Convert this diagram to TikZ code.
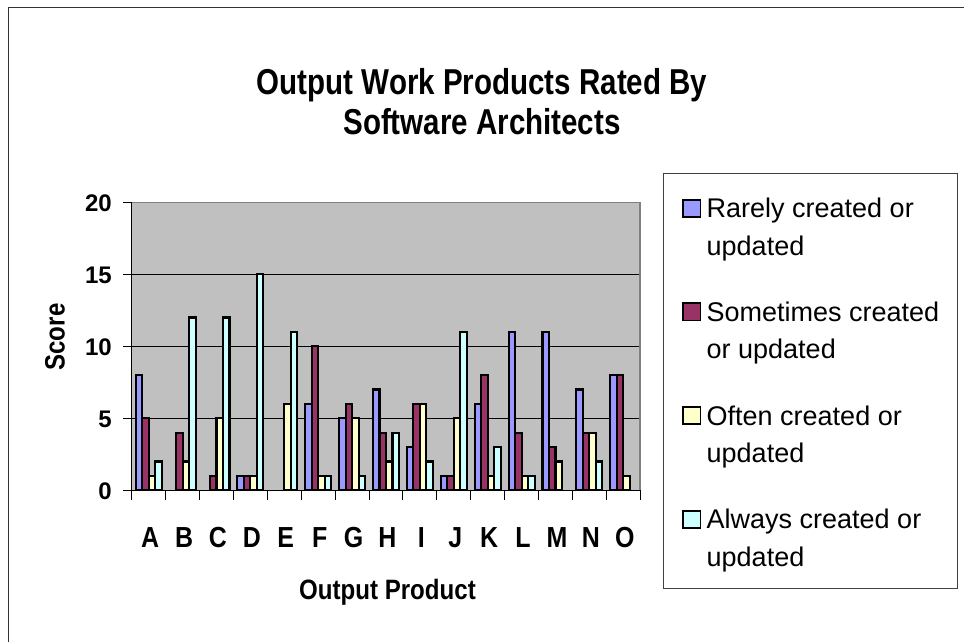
\documentclass[tikz,border=0pt]{standalone}
\usepackage{fontspec}
\setmainfont{Liberation Sans}
\newfontfamily\narrowfont[FakeStretch=0.86]{Liberation Sans}
\newfontfamily\titlefont[FakeStretch=0.82]{Liberation Sans}
\definecolor{cRare}{HTML}{9999FF}
\definecolor{cSome}{HTML}{993366}
\definecolor{cOften}{HTML}{FFFFCC}
\definecolor{cAlways}{HTML}{CCFFFF}
\definecolor{plotbg}{HTML}{C0C0C0}
\definecolor{frame}{HTML}{333333}
\begin{document}
\begin{tikzpicture}[x=1pt,y=-1pt,
  barbox/.style={draw=black,line width=2.1pt},
  gridline/.style={draw=black,line width=0.9pt},
  axisline/.style={draw=black,line width=1pt},
  titletext/.style={font=\titlefont\fontsize{36}{40}\selectfont\bfseries,inner sep=0pt,anchor=base},
  axistitle/.style={font=\narrowfont\fontsize{28}{32}\selectfont\bfseries,inner sep=0pt},
  catlabel/.style={font=\narrowfont\fontsize{29}{32}\selectfont\bfseries,inner sep=0pt,anchor=base},
  ylabel/.style={font=\fontsize{24}{28}\selectfont\bfseries,inner sep=0pt,anchor=east},
  legtext/.style={font=\fontsize{27}{32}\selectfont,inner sep=0pt,anchor=base west},
  legmark/.style={draw=black,line width=1.8pt}]
\useasboundingbox[fill=white] (0,0) rectangle (964,642);
% outer chart frame (right and bottom sides lie outside the picture)
\draw[frame,line width=1.5pt] (8.3,660) -- (8.3,7.7) -- (990,7.7);
% title
\node[titletext] (title1) at (482,95) {Output Work Products Rated By};
\node[titletext] (title2) at (482,134) {Software Architects};
% plot area
\fill[plotbg] (131.7,202.3) rectangle (640,490.3);
\foreach \v in {5,10,15}{
  \draw[gridline] (131.7,{490.3-\v*14.4}) -- (640,{490.3-\v*14.4});
}
\draw[draw=black!50,line width=1.5pt] (131.7,202.3) -- (640,202.3) -- (640,490.3);
% bars
\foreach \cat/\a/\b/\c/\d [count=\i from 0] in {A/8/5/1/2,B/0/4/2/12,C/0/1/5/12,D/1/1/1/15,E/0/0/6/11,F/6/10/1/1,G/5/6/5/1,H/7/4/2/4,I/3/6/6/2,J/1/1/5/11,K/6/8/1/3,L/11/4/1/1,M/11/3/2/0,N/7/4/4/2,O/8/8/1/0}{
  \pgfmathsetmacro\xs{131.7+\i*33.9+3.95}
  \foreach \v/\col [count=\j from 0] in {\a/cRare,\b/cSome,\c/cOften,\d/cAlways}{
    \ifnum\v>0
      \draw[barbox,fill=\col] ({\xs+\j*6.5},490.3) rectangle ({\xs+(\j+1)*6.5},{490.3-\v*14.4});
    \fi
  }
  \node[catlabel] (cat\cat) at ({131.7+(\i+0.5)*33.9+1.5},547) {\cat};
}
% axes
\draw[axisline] (131.7,202.3) -- (131.7,490.3) -- (640,490.3);
\foreach \v in {0,5,10,15,20}{
  \draw[axisline] (123.3,{490.3-\v*14.4}) -- (131.7,{490.3-\v*14.4});
  \node[ylabel] (ytick\v) at (112,{490.3-\v*14.4+1}) {\v};
}
\foreach \i in {0,...,15}{
  \draw[axisline] ({131.7+\i*33.9},490.3) -- ({131.7+\i*33.9},500);
}
\node[axistitle,anchor=base] (xtitle) at (387.5,599) {Output Product};
\node[axistitle,rotate=90] (ytitle) at (55,337) {Score};
% legend
\draw[draw=black!75,line width=1pt,fill=white] (663.5,173.5) rectangle (957.5,588.5);
\foreach \k/\col/\la/\lb in {0/cRare/Rarely created or/updated,1/cSome/Sometimes created/or updated,2/cOften/Often created or/updated,3/cAlways/Always created or/updated}{
  \draw[legmark,fill=\col] (683.3,{199.6+\k*103.7}) rectangle (700.5,{216.8+\k*103.7});
  \node[legtext] (leg\k a) at (706.5,{217.7+\k*103.7}) {\la};
  \node[legtext] (leg\k b) at (706.5,{255.2+\k*103.7}) {\lb};
}
\end{tikzpicture}
\end{document}
